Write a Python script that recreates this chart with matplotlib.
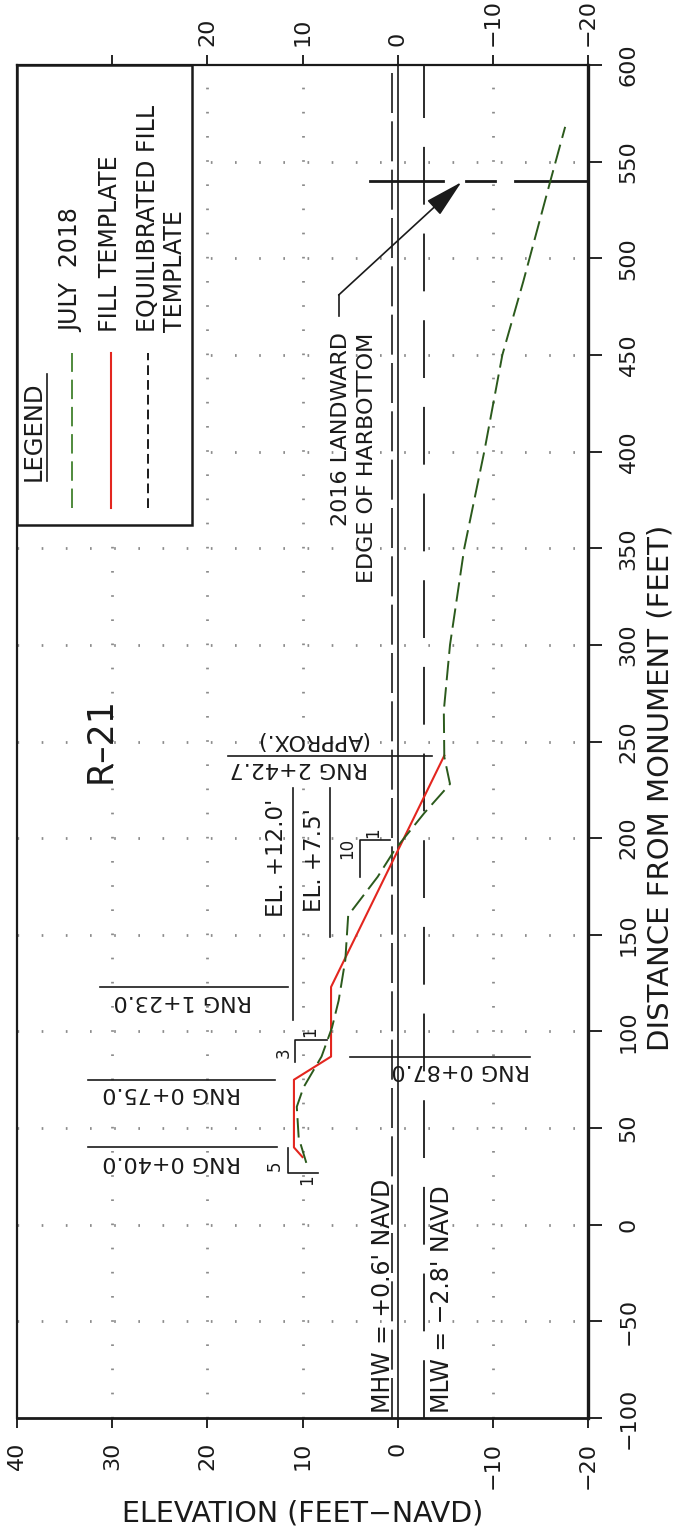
import matplotlib
matplotlib.use("Agg")
import matplotlib.pyplot as plt
from matplotlib.patches import Rectangle

plt.rcParams['font.family'] = 'DejaVu Sans'

# profile data (distance from monument, elevation)
survey_dist = [32, 45, 61, 71, 87, 102, 116, 137, 160, 180, 194, 213, 228, 242,
               266, 300, 350, 400, 450, 488, 541, 568]
survey_elev = [9.6, 10.4, 10.6, 9.9, 8.0, 6.9, 6.2, 5.5, 5.2, 2.1, 0.3, -2.8,
               -5.5, -4.9, -4.85, -5.5, -7.0, -9.1, -11.0, -13.2, -16.1, -17.6]
fill_dist = [35, 40, 75, 87, 123, 242.7]
fill_elev = [10.0, 10.9, 10.9, 7.0, 7.0, -4.9]

mhw = 0.6
mlw = -2.8
harbottom = 540

elev_ticks = [40, 30, 20, 10, 0, -10, -20]
top_ticks = [30, 20, 10, 0, -10, -20]
top_labels = ['', '20', '10', '0', '\u221210', '\u221220']
dist_ticks = list(range(-100, 601, 50))
grid_elev = [30, 20, 10, -10]
grid_dist = list(range(-50, 551, 50))

# range lines: label, distance, elevation span, text distance, text start
ranges = [
    ("RNG 0+40.0", 40, (32.5, 12.7), 32.7, 16.5),
    ("RNG 0+75.0", 75, (32.5, 12.9), 68.1, 16.5),
    ("RNG 1+23.0", 123, (31.3, 11.5), 115.7, 15.3),
    ("RNG 0+87.0", 87, (5.0, -13.9), 80.0, -13.9),
    ("RNG 2+42.7", 242.7, (17.8, -3.6), 236.4, 3.1),
]

ink = '#1a1a1a'
fig = plt.figure(figsize=(6.79, 15.31), dpi=100)
ax = fig.add_axes([17 / 679, 1 - 1418 / 1531, 571 / 679, 1353 / 1531])
ax.set_xlim(40, -20)
ax.set_ylim(-100, 600)

# dotted grid
for e in grid_elev:
    ax.plot([e, e], [-100, 600], color='#8c8c8c', lw=2.0,
            linestyle=(0, (0.6, 8.1)), zorder=1)
for d in grid_dist:
    ax.plot([40, -20], [d, d], color='#8c8c8c', lw=2.0,
            linestyle=(0, (0.6, 8.1)), zorder=1)

# zero line, MHW, MLW
ax.axvline(0, color=ink, lw=1.2, zorder=2)
ax.plot([mhw, mhw], [-100, 600], color=ink, lw=1.2,
        linestyle=(0, (24, 5)), zorder=2)
ax.plot([mlw, mlw], [-100, 600], color=ink, lw=1.3,
        linestyle=(0, (32, 16)), zorder=2)

# harbottom edge
for seg in [(2.9, -4.8), (-7.2, -10.2), (-12.3, -20)]:
    ax.plot(seg, [harbottom, harbottom], color=ink, lw=2.0, zorder=3)
ax.plot([6.2, 6.2], [470, 481], color=ink, lw=1.2, zorder=3)
ax.annotate('', xy=(-6.7, 539.4), xytext=(6.2, 481),
            arrowprops=dict(arrowstyle='-|>,head_length=1.2,head_width=0.3',
                            color=ink, lw=1.2, mutation_scale=20,
                            shrinkA=0, shrinkB=0), zorder=3)


def vtext(e, d, s, size, ha='left', va='center'):
    ax.text(e, d, s, rotation=90, rotation_mode='anchor', ha=ha, va=va,
            fontsize=size, color=ink, zorder=5)


def utext(e, d, s, size):
    ax.text(e, d, s, rotation=180, rotation_mode='anchor', ha='left',
            va='center', fontsize=size, color=ink, zorder=5)


vtext(6.0, 461.7, "2016 LANDWARD", 16, ha='right')
vtext(3.2, 461.7, "EDGE OF HARBOTTOM", 16, ha='right')
vtext(1.5, -97.5, "MHW = +0.6' NAVD", 17)
vtext(-4.65, -97.5, "MLW = \u22122.8' NAVD", 17)
vtext(31.2, 250.7, "R\u201321", 25, ha='center')

# range lines and labels
for label, d, (e0, e1), td, te in ranges:
    ax.plot([e0, e1], [d, d], color=ink, lw=1.2, zorder=3)
    utext(te, td, label, 16)
utext(3.1, 250.7, "(APPROX.)", 16)

# elevation callouts
ax.plot([11.0, 11.0], [105.9, 225.9], color=ink, lw=1.2, zorder=3)
ax.plot([7.1, 7.1], [148.8, 225.9], color=ink, lw=1.2, zorder=3)
vtext(12.7, 159, "EL. +12.0'", 16.5)
vtext(8.7, 161.7, "EL. +7.5'", 16.5)

# slope symbols
ax.plot([0.8, 3.96, 3.96], [199, 199, 179.8], color=ink, lw=1.2, zorder=3)
vtext(5.3, 194.8, "10", 12, ha='center')
vtext(2.6, 203, "1", 12, ha='center')
ax.plot([7.4, 10.8, 10.8], [95.6, 95.6, 84.2], color=ink, lw=1.2, zorder=3)
vtext(12.0, 88.8, "3", 12, ha='center')
vtext(9.2, 99.7, "1", 12, ha='center')
ax.plot([8.4, 11.5, 11.5], [26.8, 26.8, 39.7], color=ink, lw=1.2, zorder=3)
vtext(12.9, 30.4, "5", 12, ha='center')
vtext(9.5, 23.1, "1", 12, ha='center')

# profiles
ax.plot(fill_elev, fill_dist, color='#e3261f', lw=1.5, zorder=4)
ax.plot(survey_elev, survey_dist, color='#2b5a1c', lw=1.4,
        linestyle=(0, (10, 3.6)), zorder=4)

# legend box
ax.add_patch(Rectangle((40, 362), -18.4, 238, facecolor='white',
                       edgecolor=ink, lw=1.8, zorder=6))
ax.text(38.3, 385, "LEGEND", rotation=90, rotation_mode='anchor', ha='left',
        va='center', fontsize=17.5, color=ink, zorder=7)
ax.plot([36.8, 36.8], [385, 440], color=ink, lw=1.2, zorder=7)
ax.plot([34.2, 34.2], [371, 451], color='#4f8a3c', lw=1.4,
        linestyle=(0, (10, 4)), zorder=7)
ax.plot([30.1, 30.1], [371, 451], color='#e3261f', lw=1.5, zorder=7)
ax.plot([26.2, 26.2], [371, 451], color=ink, lw=1.4,
        linestyle=(0, (5, 2.6)), zorder=7)
for e, s in [(34.3, "JULY  2018"), (30.2, "FILL TEMPLATE"),
             (26.2, "EQUILIBRATED FILL"), (23.4, "TEMPLATE")]:
    ax.text(e, 461.8, s, rotation=90, rotation_mode='anchor', ha='left',
            va='center', fontsize=17, color=ink, zorder=7)

# axes, ticks and labels
for side, w in [('left', 1.6), ('top', 1.6), ('bottom', 2.0), ('right', 2.4)]:
    ax.spines[side].set_linewidth(w)
    ax.spines[side].set_color(ink)

ax.set_xticks(elev_ticks)
ax.set_xticklabels([f"{t}".replace('-', '\u2212') for t in elev_ticks],
                   rotation=90, fontsize=16, color=ink)
ax.tick_params(axis='x', direction='out', length=7, width=1.2, pad=10)

top = ax.secondary_xaxis('top')
top.set_xticks(top_ticks)
top.set_xticklabels(top_labels, rotation=90, fontsize=16, color=ink)
top.tick_params(direction='out', length=7, width=1.2, pad=7)
top.spines['top'].set_visible(False)

ax.yaxis.tick_right()
ax.set_yticks(dist_ticks)
ax.set_yticklabels([f"{t}".replace('-', '\u2212') for t in dist_ticks],
                   rotation=90, va='center', fontsize=16, color=ink)
ax.tick_params(axis='y', direction='out', length=10, width=1.2, pad=12)

ax.set_xlabel("ELEVATION (FEET\u2212NAVD)", fontsize=20.5, color=ink,
              labelpad=8)
fig.text(660 / 679, 1 - 788 / 1531, "DISTANCE FROM MONUMENT (FEET)",
         rotation=90, ha='center', va='center', fontsize=21, color=ink)

fig.savefig("out.png", dpi=100)
